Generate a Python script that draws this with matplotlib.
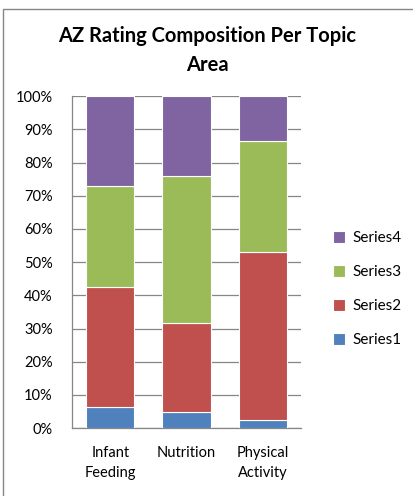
import numpy as np
import matplotlib.pyplot as plt
from matplotlib.patches import Rectangle

plt.rcParams['font.family'] = ['Lato', 'DejaVu Sans']

categories = ['Infant\nFeeding', 'Nutrition', 'Physical\nActivity']
series1 = [6.2, 4.7, 2.4]
series2 = [36.2, 27.0, 50.8]
series3 = [30.4, 44.4, 33.4]
series4 = [27.2, 23.9, 13.4]
series_names = ['Series1', 'Series2', 'Series3', 'Series4']
colors = ['#4F81BD', '#C0504D', '#9BBB59', '#8064A2']
yticks = [0, 10, 20, 30, 40, 50, 60, 70, 80, 90, 100]

fig = plt.figure(figsize=(4.14, 4.96), dpi=100)
ax = fig.add_axes([0.174, 0.137, 0.553, 0.669])

# outer chart border (only left and top edges fall inside the image)
fig.patches.append(Rectangle((3 / 414, -0.05), 1.1, 1.05 - 9 / 496,
                             transform=fig.transFigure, fill=False,
                             edgecolor='#868686', linewidth=1.0))

x = np.arange(len(categories))
bottom = np.zeros(len(categories))
handles = []
for name, vals, c in zip(series_names, [series1, series2, series3, series4], colors):
    b = ax.bar(x, vals, width=0.63, bottom=bottom, color=c, edgecolor='white',
               linewidth=0.8, label=name, zorder=3)
    handles.append(b)
    bottom += np.array(vals)

ax.set_xlim(-0.5, len(categories) - 0.5)
ax.set_ylim(0, 100)
ax.set_yticks(yticks)
ax.set_yticklabels([f'{t}%' for t in yticks], fontsize=10.5)
ax.set_xticks(x)
ax.set_xticklabels(categories, fontsize=10.5, linespacing=1.55)
ax.tick_params(axis='both', length=0)
ax.tick_params(axis='x', pad=13)
ax.tick_params(axis='y', pad=14)
ax.grid(axis='y', color='#868686', linewidth=0.9, zorder=0)
ax.set_axisbelow(True)
for s in ['top', 'right']:
    ax.spines[s].set_visible(False)
for s in ['left', 'bottom']:
    ax.spines[s].set_color('#868686')
    ax.spines[s].set_linewidth(0.9)

fig.suptitle('AZ Rating Composition Per Topic\nArea', x=0.5, y=0.948,
             fontsize=14.5, fontweight='bold', linespacing=1.6)

leg = fig.legend(handles[::-1], series_names[::-1], loc='center left',
                 bbox_to_anchor=(0.77, 0.417), frameon=False, fontsize=11,
                 handlelength=0.8, handleheight=0.8, handletextpad=0.5,
                 labelspacing=1.3)

fig.savefig('out.png', dpi=100)
